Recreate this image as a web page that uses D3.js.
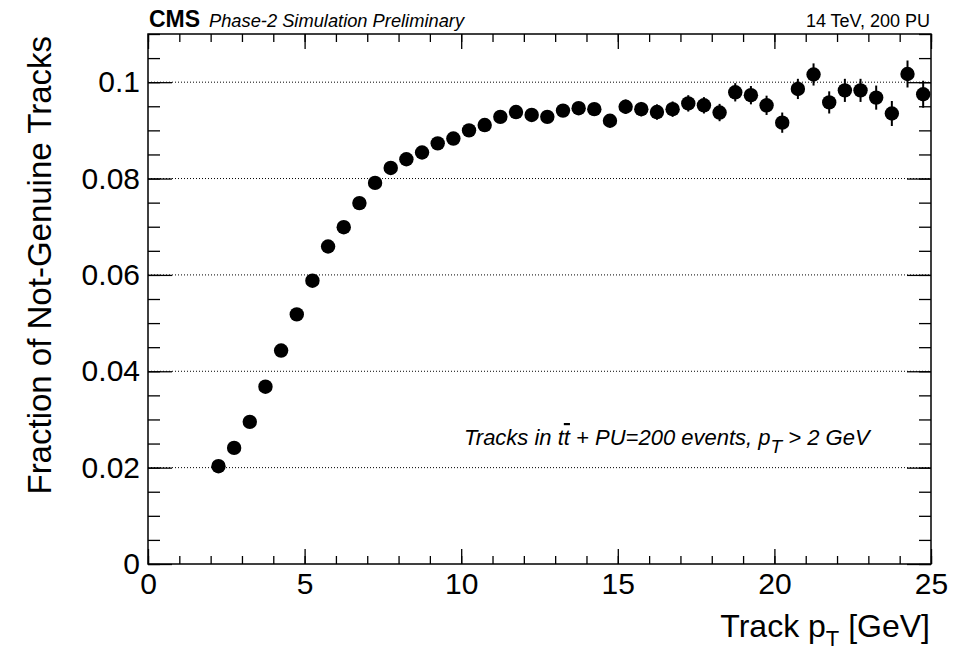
<!DOCTYPE html>
<html>
<head>
<meta charset="utf-8">
<script src="https://cdn.jsdelivr.net/npm/d3@7"></script>
<style>
  body { margin: 0; background: #fff; }
  text { font-family: "Liberation Sans", Arial, Helvetica, sans-serif; fill: #000; }
</style>
</head>
<body>
<script>
// bin centres (GeV) and fraction of not-genuine tracks in each bin
var ptBins = [2.25, 2.75, 3.25, 3.75, 4.25, 4.75, 5.25, 5.75, 6.25, 6.75, 7.25, 7.75,
  8.25, 8.75, 9.25, 9.75, 10.25, 10.75, 11.25, 11.75, 12.25, 12.75, 13.25, 13.75,
  14.25, 14.75, 15.25, 15.75, 16.25, 16.75, 17.25, 17.75, 18.25, 18.75, 19.25, 19.75,
  20.25, 20.75, 21.25, 21.75, 22.25, 22.75, 23.25, 23.75, 24.25, 24.75];
var fraction = [0.0203, 0.0241, 0.0295, 0.0368, 0.0443, 0.0518, 0.0588, 0.0659, 0.0699, 0.0749, 0.0791, 0.0822,
  0.0840, 0.0854, 0.0873, 0.0883, 0.0900, 0.0911, 0.0928, 0.0938, 0.0932, 0.0928, 0.0941, 0.0946,
  0.0944, 0.0920, 0.0949, 0.0944, 0.0938, 0.0944, 0.0956, 0.0952, 0.0937, 0.0979, 0.0973, 0.0952,
  0.0916, 0.0986, 0.1016, 0.0958, 0.0983, 0.0983, 0.0968, 0.0935, 0.1017, 0.0975];
var fractionErr = [0.0002, 0.0002, 0.0003, 0.0003, 0.0003, 0.0004, 0.0004, 0.0004, 0.0005, 0.0005, 0.0005, 0.0006,
  0.0006, 0.0007, 0.0007, 0.0008, 0.0008, 0.0009, 0.0009, 0.0010, 0.0010, 0.0011, 0.0012, 0.0012,
  0.0013, 0.0014, 0.0015, 0.0015, 0.0016, 0.0016, 0.0017, 0.0017, 0.0018, 0.0019, 0.0019, 0.0020,
  0.0021, 0.0021, 0.0023, 0.0023, 0.0024, 0.0024, 0.0025, 0.0026, 0.0028, 0.0028];

var xTicks = [0, 5, 10, 15, 20, 25];
var xTickLabels = ["0", "5", "10", "15", "20", "25"];
var yTicks = [0, 0.02, 0.04, 0.06, 0.08, 0.1];
var yTickLabels = ["0", "0.02", "0.04", "0.06", "0.08", "0.1"];

var svgWidth = 973, svgHeight = 656;
var margin = { top: 34, right: 42, bottom: 92, left: 148 };
var width = svgWidth - margin.left - margin.right;
var height = svgHeight - margin.top - margin.bottom;

var svg = d3.select("body").append("svg")
  .attr("width", svgWidth)
  .attr("height", svgHeight);

svg.append("rect").attr("width", svgWidth).attr("height", svgHeight).attr("fill", "#fff");

var chart = svg.append("g")
  .attr("transform", `translate(${margin.left}, ${margin.top})`);

var x = d3.scaleLinear().domain([0, 25]).range([0, width]);
var y = d3.scaleLinear().domain([0, 0.11]).range([height, 0]);

var xMinor = d3.range(0, 26, 1);
var yMinor = d3.range(0, 0.1101, 0.005);

// dotted grid on the major y ticks
chart.append("g").selectAll("line")
  .data(yTicks.filter(d => d > 0))
  .enter().append("line")
  .attr("x1", 0).attr("x2", width)
  .attr("y1", d => y(d)).attr("y2", d => y(d))
  .attr("stroke", "#000")
  .attr("stroke-width", 1)
  .attr("stroke-dasharray", "1,2");

// ticks (ROOT style: inward, on all four sides)
function styleAxis(g) {
  g.select(".domain").remove();
  g.selectAll(".tick line").attr("stroke", "#000").attr("stroke-width", 1.3);
  g.selectAll(".tick text").style("font-size", "30px").attr("fill", "#000");
}

chart.append("g").attr("transform", `translate(0,${height})`)
  .call(d3.axisBottom(x).tickValues(xMinor).tickSize(-8).tickFormat(""))
  .call(styleAxis);
chart.append("g").attr("transform", `translate(0,${height})`)
  .call(d3.axisBottom(x).tickValues(xTicks).tickSize(-15).tickPadding(9)
    .tickFormat((d, i) => xTickLabels[i]))
  .call(styleAxis);
chart.append("g")
  .call(d3.axisTop(x).tickValues(xMinor).tickSize(-8).tickFormat(""))
  .call(styleAxis);
chart.append("g")
  .call(d3.axisTop(x).tickValues(xTicks).tickSize(-15).tickFormat(""))
  .call(styleAxis);

chart.append("g")
  .call(d3.axisLeft(y).tickValues(yMinor).tickSize(-12).tickFormat(""))
  .call(styleAxis);
chart.append("g")
  .call(d3.axisLeft(y).tickValues(yTicks).tickSize(-24).tickPadding(8)
    .tickFormat((d, i) => yTickLabels[i]))
  .call(styleAxis);
chart.append("g").attr("transform", `translate(${width},0)`)
  .call(d3.axisRight(y).tickValues(yMinor).tickSize(-12).tickFormat(""))
  .call(styleAxis);
chart.append("g").attr("transform", `translate(${width},0)`)
  .call(d3.axisRight(y).tickValues(yTicks).tickSize(-24).tickFormat(""))
  .call(styleAxis);

// frame
chart.append("rect")
  .attr("width", width).attr("height", height)
  .attr("fill", "none").attr("stroke", "#000").attr("stroke-width", 1.5);

// points with vertical error bars
var pts = ptBins.map((p, i) => ({ pt: p, v: fraction[i], e: fractionErr[i] }));

chart.append("g").selectAll("line")
  .data(pts).enter().append("line")
  .attr("x1", d => x(d.pt)).attr("x2", d => x(d.pt))
  .attr("y1", d => y(d.v - d.e)).attr("y2", d => y(d.v + d.e))
  .attr("stroke", "#000").attr("stroke-width", 2);

chart.append("g").selectAll("circle")
  .data(pts).enter().append("circle")
  .attr("cx", d => x(d.pt))
  .attr("cy", d => y(d.v))
  .attr("r", 7.2)
  .attr("fill", "#000");

// header
svg.append("text").attr("x", 149).attr("y", 27)
  .style("font-size", "23px").style("font-weight", "bold").text("CMS");
svg.append("text").attr("x", 209).attr("y", 27)
  .style("font-size", "18.3px").style("font-style", "italic")
  .text("Phase-2 Simulation Preliminary");
svg.append("text").attr("x", 930).attr("y", 27)
  .attr("text-anchor", "end").style("font-size", "18px")
  .text("14 TeV, 200 PU");

// annotation
var note = svg.append("text").attr("x", 464).attr("y", 445)
  .style("font-size", "22px").style("font-style", "italic");
note.append("tspan").text("Tracks in t");
note.append("tspan").style("text-decoration", "overline").text("t");
note.append("tspan").text(" + PU=200 events, p");
note.append("tspan").attr("dy", 8).style("font-size", "19px").text("T");
note.append("tspan").attr("dy", -8).text(" > 2 GeV");

// axis titles
svg.append("text")
  .attr("transform", "translate(51,36) rotate(-90)")
  .attr("text-anchor", "end")
  .style("font-size", "33px")
  .text("Fraction of Not-Genuine Tracks");

var xt = svg.append("text").attr("x", 930).attr("y", 637)
  .attr("text-anchor", "end").style("font-size", "32px");
xt.append("tspan").text("Track p");
xt.append("tspan").attr("dy", 9).style("font-size", "22px").text("T");
xt.append("tspan").attr("dy", -9).text(" [GeV]");
</script>
</body>
</html>
